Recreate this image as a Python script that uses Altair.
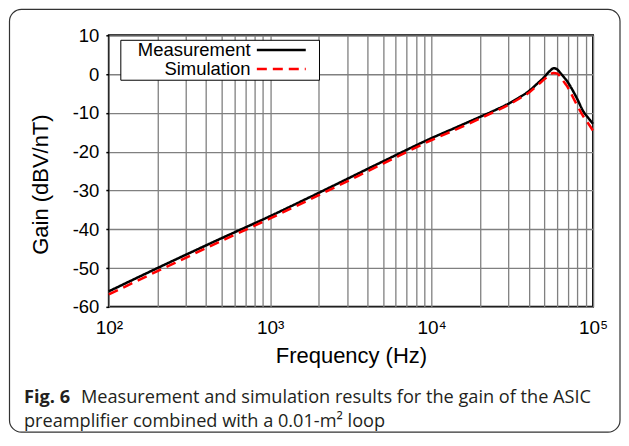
import altair as alt
import pandas as pd

# ---- data ----
freq_hz = [100, 200, 500, 1000, 2000, 5000, 10000, 15000, 20000, 25000, 30000,
           35000, 40000, 45000, 50000, 54000, 57000, 60000, 63000, 66000, 69000,
           72000, 80000, 87000, 93000, 100000]
measurement_db = [-56.0, -50.0, -42.3, -36.6, -30.6, -22.5, -16.5, -13.3, -11.0, -9.2,
                  -7.6, -6.0, -4.4, -2.5, -0.7, 0.8, 1.5, 1.2, 0.2, -0.8, -1.8,
                  -3.0, -6.5, -9.6, -11.2, -12.8]
simulation_db = [-56.8, -50.8, -43.0, -37.2, -31.2, -23.1, -17.0, -13.8, -11.4, -9.5,
                 -7.9, -6.3, -4.8, -3.0, -1.3, -0.1, 0.3, 0.1, -0.7, -2.0, -3.1,
                 -4.5, -8.2, -10.9, -12.6, -14.6]
series_names = ["Measurement", "Simulation"]
series_colors = ["#000000", "#ff0000"]
y_ticks = [-60, -50, -40, -30, -20, -10, 0, 10]
x_grid = [m * d for d in [100, 1000, 10000] for m in range(1, 10)] + [100000]

caption_bold = "Fig. 6"
caption_line1 = "Measurement and simulation results for the gain of the ASIC"
caption_line2 = "preamplifier combined with a 0.01-m\u00b2 loop"

rows = []
for f, m, s in zip(freq_hz, measurement_db, simulation_db):
    rows.append({"freq": f, "gain": m, "series": series_names[0]})
    rows.append({"freq": f, "gain": s, "series": series_names[1]})
df = pd.DataFrame(rows)

W, H = 485, 272
FONT = "Liberation Sans"
CAP_FONT = "Open Sans"
CAP_SIZE = 18.2

# legend: label text first (right aligned), line sample to its right
legend = alt.Legend(
    title=" ", titleOrient="right", titlePadding=7, titleFontSize=18,
    orient="none", legendX=11.5, legendY=4.5, direction="vertical",
    symbolType="M25.3,0H35.1", symbolSize=100, symbolStrokeWidth=2.5,
    labelAlign="right", labelOffset=111, symbolOffset=0,
    labelFontSize=18.5, labelFont=FONT, labelColor="black",
    rowPadding=0, padding=1,
    fillColor="white", strokeColor="black",
)

lines = alt.Chart(df).mark_line(strokeWidth=2.5, interpolate="monotone").encode(
    x=alt.X("freq:Q",
            scale=alt.Scale(type="log", domain=[100, 100000], nice=False),
            axis=alt.Axis(values=x_grid, grid=True, ticks=False,
                          labelExpr="datum.value == 100 ? '10\u00b2' : datum.value == 1000 ? '10\u00b3' : datum.value == 10000 ? '10\u2074' : datum.value == 100000 ? '10\u2075' : ''",
                          labelFontSize=19, labelPadding=12, labelFlush=False,
                          title="Frequency (Hz)", titleFontSize=22, titlePadding=8)),
    y=alt.Y("gain:Q",
            scale=alt.Scale(domain=[-60, 10], nice=False, zero=False),
            axis=alt.Axis(values=y_ticks, grid=True, tickSize=3, labelPadding=7,
                          labelExpr="toString(datum.value)",
                          labelFontSize=18.5, title="Gain (dBV/nT)",
                          titleFontSize=22, titlePadding=20, titleY=149)),
    color=alt.Color("series:N", scale=alt.Scale(domain=series_names, range=series_colors),
                    legend=legend),
    strokeDash=alt.StrokeDash("series:N",
                              scale=alt.Scale(domain=series_names, range=[[1, 0], [10, 6]]),
                              legend=legend),
)

frame = alt.Chart(pd.DataFrame({"k": [0]})).mark_rect(
    fill=None, stroke="#333333", strokeWidth=1.2, cornerRadius=12
).encode(x=alt.value(-99.5), x2=alt.value(512), y=alt.value(-26), y2=alt.value(397.5))

cap_bold = alt.Chart(pd.DataFrame({"t": [caption_bold]})).mark_text(
    font=CAP_FONT, fontSize=CAP_SIZE, fontWeight="bold", align="left", baseline="middle",
    color="#231f20"
).encode(text="t:N", x=alt.value(-85), y=alt.value(363.5))

cap1 = alt.Chart(pd.DataFrame({"t": [caption_line1]})).mark_text(
    font=CAP_FONT, fontSize=CAP_SIZE, align="left", baseline="middle", color="#231f20"
).encode(text="t:N", x=alt.value(-28), y=alt.value(363.5))

cap2 = alt.Chart(pd.DataFrame({"t": [caption_line2]})).mark_text(
    font=CAP_FONT, fontSize=CAP_SIZE, align="left", baseline="middle", color="#231f20"
).encode(text="t:N", x=alt.value(-85), y=alt.value(387))

chart = alt.layer(lines, frame, cap_bold, cap1, cap2).properties(
    width=W, height=H, padding={"left": 0, "top": 0, "right": 0, "bottom": 0},
    background="white"
).configure_view(
    stroke="black", strokeWidth=2
).configure_axis(
    domain=False, gridColor="#808080", gridWidth=1.3, gridOpacity=1,
    labelFont=FONT, titleFont=FONT, labelColor="black", titleColor="black",
    titleFontWeight="normal", tickColor="black", tickWidth=1.5
)

chart.save("out.html", embed_options={"renderer": "svg", "actions": False})
